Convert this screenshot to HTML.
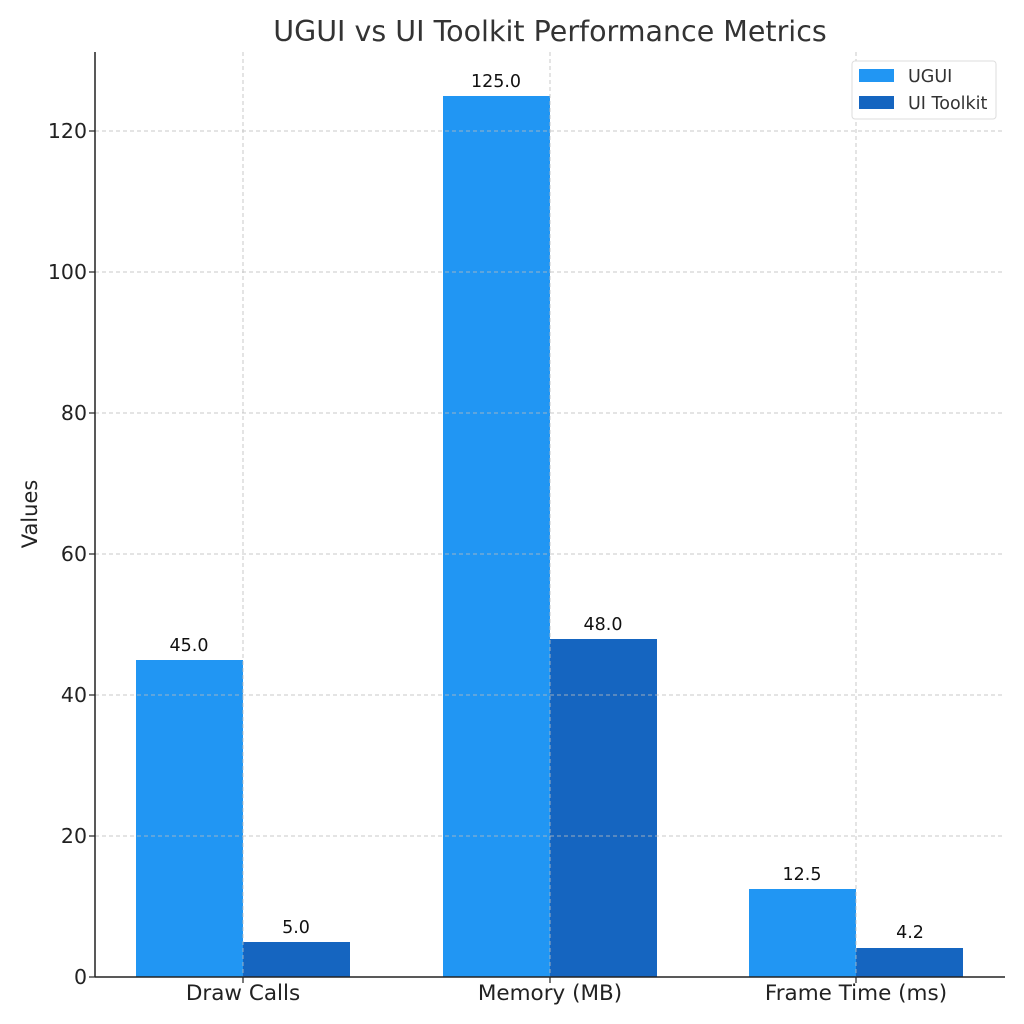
<!DOCTYPE html>
<html><head><meta charset="utf-8"><style>body{margin:0;background:#fff}svg{display:block}</style></head>
<body>
<svg width="1024" height="1024" xmlns="http://www.w3.org/2000/svg" font-family="'DejaVu Sans','Liberation Sans',sans-serif">
<rect width="1024" height="1024" fill="#fff"/>
<text x="550" y="41" text-anchor="middle" font-size="28.5" fill="#333">UGUI vs UI Toolkit Performance Metrics</text>
<g fill="#2196f3">
<rect x="136" y="660" width="107" height="317"/>
<rect x="443" y="96" width="107" height="881"/>
<rect x="749" y="889" width="107" height="88"/>
</g>
<g fill="#1565c0">
<rect x="243" y="942" width="107" height="35"/>
<rect x="550" y="639" width="107" height="338"/>
<rect x="856" y="948" width="107" height="29"/>
</g>
<g stroke="#bbb" stroke-opacity="0.8" stroke-width="1" stroke-dasharray="4,3">
<line x1="95" x2="1005" y1="836" y2="836"/>
<line x1="95" x2="1005" y1="695" y2="695"/>
<line x1="95" x2="1005" y1="554" y2="554"/>
<line x1="95" x2="1005" y1="413" y2="413"/>
<line x1="95" x2="1005" y1="272" y2="272"/>
<line x1="95" x2="1005" y1="131" y2="131"/>
<line x1="243" x2="243" y1="52" y2="977"/>
<line x1="550" x2="550" y1="52" y2="977"/>
<line x1="856" x2="856" y1="52" y2="977"/>
</g>
<g font-size="17.5" fill="#111" text-anchor="middle">
<text x="189" y="651">45.0</text>
<text x="296" y="933">5.0</text>
<text x="496" y="87">125.0</text>
<text x="603" y="630">48.0</text>
<text x="802" y="880">12.5</text>
<text x="910" y="938">4.2</text>
</g>
<g stroke="#222" stroke-width="1.5" fill="none">
<line x1="95" y1="52" x2="95" y2="977"/>
<line x1="95" y1="977" x2="1005" y2="977"/>
</g>
<g stroke="#222" stroke-width="1.2">
<line x1="89" x2="95" y1="977" y2="977"/><line x1="89" x2="95" y1="836" y2="836"/>
<line x1="89" x2="95" y1="695" y2="695"/><line x1="89" x2="95" y1="554" y2="554"/>
<line x1="89" x2="95" y1="413" y2="413"/><line x1="89" x2="95" y1="272" y2="272"/>
<line x1="89" x2="95" y1="131" y2="131"/>
<line x1="243" x2="243" y1="977" y2="983"/><line x1="550" x2="550" y1="977" y2="983"/><line x1="856" x2="856" y1="977" y2="983"/>
</g>
<g font-size="20.5" fill="#222" text-anchor="end">
<text x="87" y="984">0</text><text x="87" y="843">20</text><text x="87" y="702">40</text>
<text x="87" y="561">60</text><text x="87" y="420">80</text><text x="87" y="279">100</text><text x="87" y="138">120</text>
</g>
<g font-size="21.5" fill="#222" text-anchor="middle">
<text x="243" y="1000">Draw Calls</text><text x="550" y="1000">Memory (MB)</text><text x="856" y="1000">Frame Time (ms)</text>
</g>
<text transform="translate(37,514) rotate(-90)" font-size="21" fill="#222" text-anchor="middle">Values</text>
<rect x="852" y="61" width="144" height="58" rx="3" fill="#fff" stroke="#ddd"/>
<rect x="859" y="69" width="35" height="13" fill="#2196f3"/>
<rect x="859" y="96" width="35" height="13" fill="#1565c0"/>
<text x="908" y="82" font-size="17.5" fill="#333">UGUI</text>
<text x="908" y="109" font-size="17.5" fill="#333">UI Toolkit</text>
</svg>
</body></html>
